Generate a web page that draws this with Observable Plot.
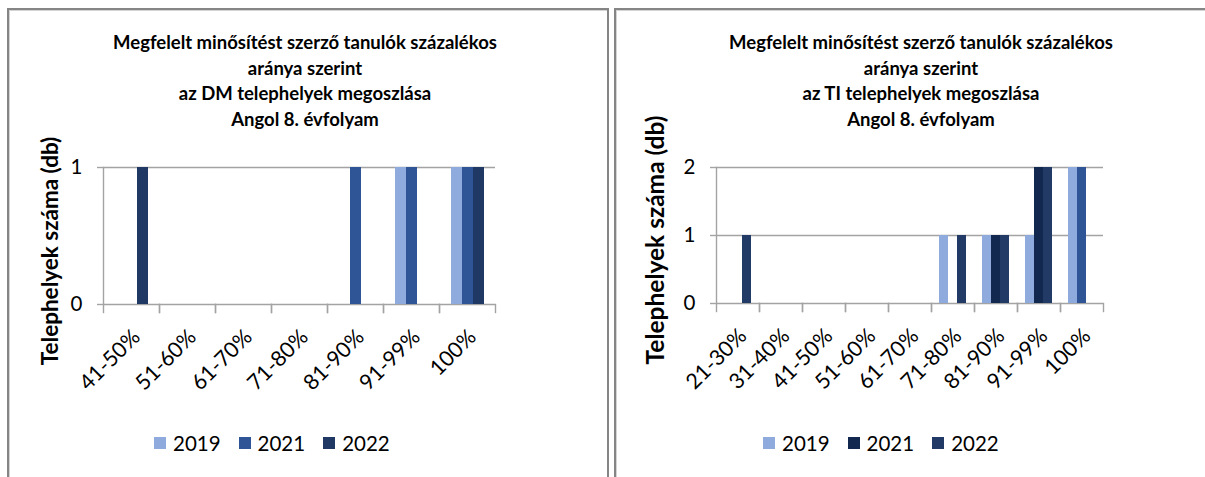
<!DOCTYPE html>
<html>
<head>
<meta charset="utf-8">
<script src="https://cdn.jsdelivr.net/npm/d3@7"></script>
<script src="https://cdn.jsdelivr.net/npm/@observablehq/plot@0.6"></script>
<style>
  html, body { margin: 0; padding: 0; background: #fff; }
  #root { position: relative; width: 1205px; height: 477px; overflow: hidden; background: #fff; font-family: Lato, "Open Sans", sans-serif; color: #000; }
  .panel { position: absolute; box-sizing: border-box; border: 2px solid #858585; box-shadow: inset 1px 1px 0 #d4d4d4; }
  .title { position: absolute; text-align: center; font-weight: bold; font-size: 18.5px; line-height: 25.5px; white-space: nowrap; }
  .ylab { position: absolute; font-weight: bold; white-space: nowrap; transform: translate(-50%, -50%) rotate(-90deg); }
  .legend { position: absolute; display: flex; align-items: center; font-size: 20.5px; white-space: nowrap; }
  .legend .sw { width: 12px; height: 12px; margin-right: 7px; }
  .legend .it { display: flex; align-items: center; margin-right: 18px; }
  .chart { position: absolute; top: 0; }
  .chart svg { overflow: visible; }
</style>
</head>
<body>
<div id="root">
  <div class="panel" style="left:7px;top:8px;width:602px;height:520px"></div>
  <div class="panel" style="left:614px;top:8px;width:700px;height:520px"></div>
  <div class="title" id="t1" style="left:105px;top:30px;width:400px"></div>
  <div class="title" id="t2" style="left:721px;top:30px;width:400px"></div>
  <div class="ylab" id="y1" style="left:49px;top:251px;font-size:22.5px"></div>
  <div class="ylab" id="y2" style="left:654px;top:240px;font-size:24.5px"></div>
  <div class="chart" id="c1" style="left:0px"></div>
  <div class="chart" id="c2" style="left:610px"></div>
  <div class="legend" id="l1" style="left:154px;top:431px"></div>
  <div class="legend" id="l2" style="left:763px;top:431px"></div>
</div>
<script>
// ---- data ----
const years = ["2019", "2021", "2022"];

const titleDM = ["Megfelelt minősítést szerző tanulók százalékos", "aránya szerint", "az DM telephelyek megoszlása", "Angol 8. évfolyam"];
const catsDM = ["41-50%", "51-60%", "61-70%", "71-80%", "81-90%", "91-99%", "100%"];
const dm2019 = [0, 0, 0, 0, 0, 1, 1];
const dm2021 = [0, 0, 0, 0, 1, 1, 1];
const dm2022 = [1, 0, 0, 0, 0, 0, 1];
const ticksDM = [0, 1];

const titleTI = ["Megfelelt minősítést szerző tanulók százalékos", "aránya szerint", "az TI telephelyek megoszlása", "Angol 8. évfolyam"];
const catsTI = ["21-30%", "31-40%", "41-50%", "51-60%", "61-70%", "71-80%", "81-90%", "91-99%", "100%"];
const ti2019 = [0, 0, 0, 0, 0, 1, 1, 1, 2];
const ti2021 = [0, 0, 0, 0, 0, 0, 1, 2, 2];
const ti2022 = [1, 0, 0, 0, 0, 1, 1, 2, 0];
const ticksTI = [0, 1, 2];

const yLabel = "Telephelyek száma (db)";

// ---- styles ----
const colorsDM = ["#8FAADC", "#2F5597", "#203864"];
const colorsTI = ["#8FAADC", "#13284F", "#223A66"];
const pointColorsTI = {"100%|2021": "#2F5597"};
const gridColor = "#a3a3a3";

function makeChart({cats, series, ticks, colors, pointColors = {}, width, marginLeft, marginRight, marginTop, marginBottom, outer}) {
  const rows = [];
  cats.forEach((c, i) => years.forEach((y, j) => rows.push({cat: c, year: y, value: series[j][i], color: pointColors[c + "|" + y] || colors[j]})));
  const plotH = 477 - marginTop - marginBottom;
  return Plot.plot({
    width, height: 477, marginTop, marginBottom, marginLeft, marginRight,
    style: {fontFamily: "Lato, 'Open Sans', sans-serif", fontSize: "20.5px", color: "#000", background: "transparent", overflow: "visible"},
    fx: {domain: cats, padding: 0, label: null},
    x: {domain: years, paddingInner: 0, paddingOuter: outer, axis: null},
    y: {domain: [0, d3.max(ticks)], label: null},
    marks: [
      Plot.ruleY(ticks, {stroke: gridColor, strokeWidth: 1.4}),
      Plot.barY(rows, {fx: "cat", x: "year", y: "value", fill: "color"}),
      Plot.frame({anchor: "left", facetAnchor: "left", stroke: gridColor, strokeWidth: 1.4}),
      Plot.frame({anchor: "left", insetTop: plotH, insetBottom: -8, stroke: gridColor, strokeWidth: 1.4}),
      Plot.frame({anchor: "right", insetTop: plotH, insetBottom: -8, stroke: gridColor, strokeWidth: 1.4}),
      Plot.axisY({ticks, tickFormat: "d", tickSize: 6, tickPadding: 15, stroke: gridColor, strokeWidth: 1.4, fill: "#000", label: null}),
      Plot.axisFx({anchor: "bottom", tickSize: 0, tickRotate: -45, tickPadding: 29, dx: 5, fontSize: 21.5, fill: "#000", label: null})
    ]
  });
}

document.getElementById("c1").append(makeChart({
  cats: catsDM, series: [dm2019, dm2021, dm2022], ticks: ticksDM, colors: colorsDM,
  width: 605, marginLeft: 101, marginRight: 109, marginTop: 167, marginBottom: 173, outer: 0.85
}));
document.getElementById("c2").append(makeChart({
  cats: catsTI, series: [ti2019, ti2021, ti2022], ticks: ticksTI, colors: colorsTI, pointColors: pointColorsTI,
  width: 595, marginLeft: 102, marginRight: 98, marginTop: 167, marginBottom: 174, outer: 0.75
}));

function fillTitle(id, lines) {
  const el = document.getElementById(id);
  lines.forEach(l => { const d = document.createElement("div"); d.textContent = l; el.append(d); });
}
fillTitle("t1", titleDM);
fillTitle("t2", titleTI);
document.getElementById("y1").textContent = yLabel;
document.getElementById("y2").textContent = yLabel;

function fillLegend(id, colors) {
  const el = document.getElementById(id);
  years.forEach((y, j) => {
    const it = document.createElement("div"); it.className = "it";
    const sw = document.createElement("div"); sw.className = "sw"; sw.style.background = colors[j];
    const tx = document.createElement("span"); tx.textContent = y;
    it.append(sw, tx); el.append(it);
  });
}
fillLegend("l1", colorsDM);
fillLegend("l2", colorsTI);
</script>
</body>
</html>
